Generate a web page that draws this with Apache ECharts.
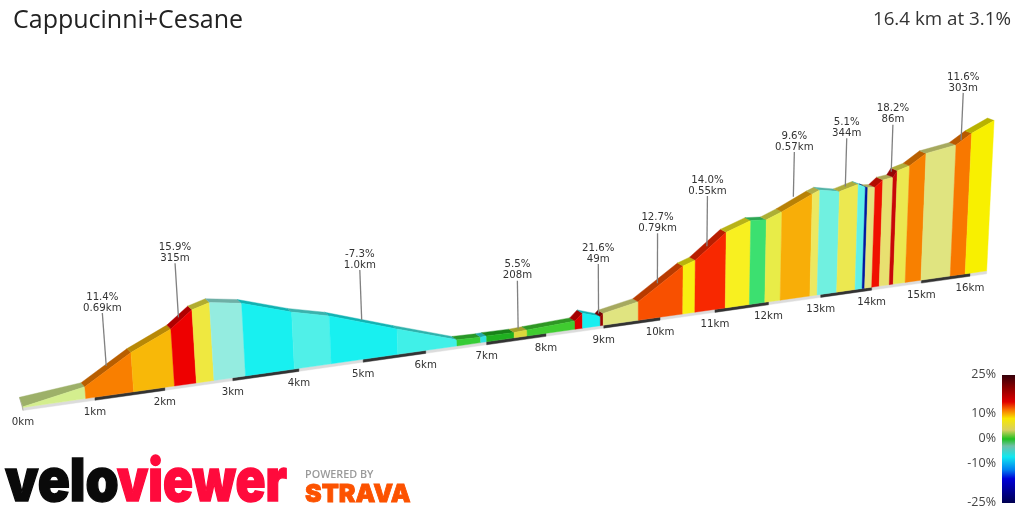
<!DOCTYPE html>
<html>
<head>
<meta charset="utf-8">
<style>html,body{margin:0;padding:0;background:#fff}#chart{width:1024px;height:512px}</style>
<script src="https://cdn.jsdelivr.net/npm/echarts@6/dist/echarts.min.js"></script>
</head>
<body>
<div id="chart"></div>
<script>
// profile: km and metres above the base line at each colour change
var breakKm = [0, 0.87, 1.55, 2.14, 2.46, 2.72, 3.19, 3.93, 4.50, 5.55, 6.51, 6.90, 7.00, 7.46, 7.68, 8.50, 8.63, 8.94, 8.99, 9.61, 10.41, 10.63, 11.19, 11.64, 11.93, 12.22, 12.79, 12.93, 13.31, 13.67, 13.81, 13.86, 14.00, 14.15, 14.35, 14.43, 14.67, 14.99, 15.59, 15.90, 16.35];
var breakElev = [2, 34, 114, 167, 215, 230, 216, 171, 145, 78, 19, 17, 18, 17, 19, 26, 48, 29, 38, 60, 157, 171, 250, 279, 275, 296, 344, 354, 341, 359, 348, 344, 342, 364, 369, 390, 402, 439, 457, 492, 529];
var segColors = ['#d4ee8e', '#f97f00', '#f8b808', '#ee0000', '#efe840', '#94ece0', '#18f0f0', '#50f0e8', '#18f0f0', '#40f0e8', '#36cc36', '#30e0e0', '#20b020', '#dcd83c', '#40cc30', '#dd0000', '#18eef0', '#990000', '#e0e480', '#f85000', '#f8f010', '#f82800', '#f8f020', '#3ce070', '#e8ec48', '#f8ae08', '#ece860', '#70f0e0', '#ece850', '#60f0e8', '#0018a0', '#e4e480', '#f01000', '#e8e070', '#c80808', '#ece850', '#f88000', '#e0e480', '#f87800', '#f8f000'];

var tickKm = [0, 1, 2, 3, 4, 5, 6, 7, 8, 9, 10, 11, 12, 13, 14, 15, 16];
var tickLabels = ['0km', '1km', '2km', '3km', '4km', '5km', '6km', '7km', '8km', '9km', '10km', '11km', '12km', '13km', '14km', '15km', '16km'];

var calloutKm = [1.19, 2.26, 5.00, 7.53, 8.91, 9.95, 10.84, 12.43, 13.42, 14.31, 15.69];
var calloutFrom = [85, 198, 120, 28, 40, 112, 212, 342, 356, 389, 472];
var calloutTo = [238, 357, 272, 178, 199, 274, 377, 492, 520, 550, 637];
var calloutGrade = ['11.4%', '15.9%', '-7.3%', '5.5%', '21.6%', '12.7%', '14.0%', '9.6%', '5.1%', '18.2%', '11.6%'];
var calloutLength = ['0.69km', '315m', '1.0km', '208m', '49m', '0.79km', '0.55km', '0.57km', '344m', '86m', '303m'];

var scaleLabels = ['25%', '10%', '0%', '-10%', '-25%'];
var scaleLabelY = [374, 413, 438, 463, 502];
var scaleStops = [
    [0, '#35000a'], [0.1, '#8a0000'], [0.21, '#e00000'], [0.27, '#f87000'], [0.34, '#f8e800'], [0.43, '#d8d060'],
    [0.5, '#20c020'], [0.555, '#70c0a8'], [0.64, '#10e8f0'], [0.74, '#0080f0'], [0.81, '#0000d8'], [1, '#000050']
];

// perspective of the 3d view
var A = 73, B = 0.01459, X0 = 23, Y0 = 407.5, RISE = 0.1418, M_PX = 0.352, VX = 633, SLANT = 0.00014;

function project(km, elev) {
    var f = 1 + B * km;
    var bx = X0 + A * km / f;
    var by = Y0 - RISE * (bx - X0);
    var h = elev * M_PX / f;
    return [bx + (bx - VX) * SLANT * h, by - h];
}
function backOf(p, km) {
    var dx = -3.5 - 0.0032 * (p[0] - 20);
    var dy = km === 0 ? -9.5 : -4.2 + 0.0018 * (p[0] - 20);
    return [p[0] + dx, p[1] + dy];
}
function darker(hex) {
    var n = parseInt(hex.slice(1), 16);
    var r = Math.round((n >> 16) * 0.74), g = Math.round(((n >> 8) & 255) * 0.74), b = Math.round((n & 255) * 0.74);
    return 'rgb(' + r + ',' + g + ',' + b + ')';
}
function poly(api, pts, color, z) {
    return {
        type: 'polygon',
        z2: z || 0,
        shape: { points: pts.map(function (p) { return api.coord(p); }) },
        style: { fill: color, stroke: color, lineWidth: 0.4 }
    };
}

function renderSegment(params, api) {
    var i = api.value(0);
    var k0 = breakKm[i], k1 = breakKm[i + 1];
    var a = project(k0, 0), b = project(k1, 0);
    var c = project(k1, breakElev[i + 1]), d = project(k0, breakElev[i]);
    var top = darker(segColors[i]);
    var kids = [
        poly(api, [d, c, backOf(c, k1), backOf(d, k0)], top),
        poly(api, [a, b, c, d], segColors[i])
    ];
    if (i === 0) {
        kids.unshift(poly(api, [backOf(d, k0), d, [a[0], a[1] + 3]], '#a8a898'));
    }
    return { type: 'group', children: kids };
}

function renderStrip(params, api) {
    var k0 = api.value(0), k1 = api.value(1);
    var a = project(k0, 0), b = project(k1, 0);
    return poly(api, [a, b, [b[0], b[1] + 3], [a[0], a[1] + 3]], api.value(2) ? '#333333' : '#dcdcdc');
}

function renderTick(params, api) {
    var km = api.value(0);
    var p = api.coord(project(km, 0));
    return {
        type: 'text',
        style: { x: p[0], y: p[1] + 15, text: tickLabels[params.dataIndex], align: 'center', verticalAlign: 'middle', fill: '#333', font: '10.2px "DejaVu Sans"' }
    };
}

function renderCallout(params, api) {
    var i = params.dataIndex;
    var p0 = api.coord(project(calloutKm[i], calloutFrom[i]));
    var p1 = api.coord(project(calloutKm[i], calloutTo[i]));
    return {
        type: 'group',
        children: [
            { type: 'line', shape: { x1: p0[0], y1: p0[1], x2: p1[0], y2: p1[1] }, style: { stroke: '#808080', lineWidth: 1.3 } },
            { type: 'text', style: { x: p1[0], y: p1[1] - 16, text: calloutGrade[i], align: 'center', verticalAlign: 'middle', fill: '#333', font: '10.2px "DejaVu Sans"' } },
            { type: 'text', style: { x: p1[0], y: p1[1] - 5, text: calloutLength[i], align: 'center', verticalAlign: 'middle', fill: '#333', font: '10.2px "DejaVu Sans"' } }
        ]
    };
}

var stripData = [[0, breakKm[breakKm.length - 1], 0]];
tickKm.forEach(function (k) {
    if (k % 2 === 1) stripData.push([k, k + 1, 1]);
});

var chartDom = document.getElementById('chart');
var myChart = echarts.init(chartDom);

var graphicItems = [
    { type: 'rect', shape: { x: 1002, y: 375, width: 13, height: 128 }, style: { fill: new echarts.graphic.LinearGradient(0, 0, 0, 1, scaleStops.map(function (s) { return { offset: s[0], color: s[1] }; })) } },
    { type: 'text', x: 5, y: 453.5, scaleX: 0.9, style: { text: 'velo', fill: '#0a0a0a', stroke: '#0a0a0a', lineWidth: 1.4, font: '900 59px Inter' } },
    { type: 'text', x: 117, y: 453.5, scaleX: 0.84, style: { text: 'viewer', fill: '#ff0a3c', stroke: '#ff0a3c', lineWidth: 1.4, font: '900 59px Inter' } },
    { type: 'text', x: 305, y: 469, style: { text: 'POWERED BY', fill: '#9a9a9a', font: '600 10.8px "Open Sans"' } },
    { type: 'text', x: 305, y: 481.5, style: { text: 'STRAVA', fill: '#fc5200', stroke: '#fc5200', lineWidth: 0.8, font: '900 25px Inter' } }
];
scaleLabels.forEach(function (t, i) {
    graphicItems.push({ type: 'text', style: { x: 996, y: scaleLabelY[i], text: t, align: 'right', verticalAlign: 'middle', fill: '#444', font: '12.5px "Open Sans"' } });
});

var option = {
    animation: false,
    backgroundColor: '#fff',
    title: [
        { text: 'Cappucinni+Cesane', left: 13, top: 8, padding: 0, textStyle: { fontFamily: 'Open Sans', fontWeight: 'normal', fontSize: 25, color: '#222' } },
        { text: '16.4 km at 3.1%', right: 13, top: 10, padding: 0, textStyle: { fontFamily: 'Open Sans', fontWeight: 'normal', fontSize: 18.8, color: '#333' } }
    ],
    grid: { left: 0, right: 0, top: 0, bottom: 0 },
    xAxis: { type: 'value', min: 0, max: 1024, show: false },
    yAxis: { type: 'value', min: 0, max: 512, inverse: true, show: false },
    graphic: graphicItems,
    series: [
        { type: 'custom', coordinateSystem: 'cartesian2d', renderItem: renderStrip, data: stripData, z: 1, silent: true },
        { type: 'custom', coordinateSystem: 'cartesian2d', renderItem: renderSegment, data: segColors.map(function (c, i) { return [i]; }), z: 2, silent: true },
        { type: 'custom', coordinateSystem: 'cartesian2d', renderItem: renderTick, data: tickKm.map(function (k) { return [k]; }), z: 3, silent: true },
        { type: 'custom', coordinateSystem: 'cartesian2d', renderItem: renderCallout, data: calloutKm.map(function (k) { return [k]; }), z: 4, silent: true }
    ]
};
myChart.setOption(option);
</script>
</body>
</html>
